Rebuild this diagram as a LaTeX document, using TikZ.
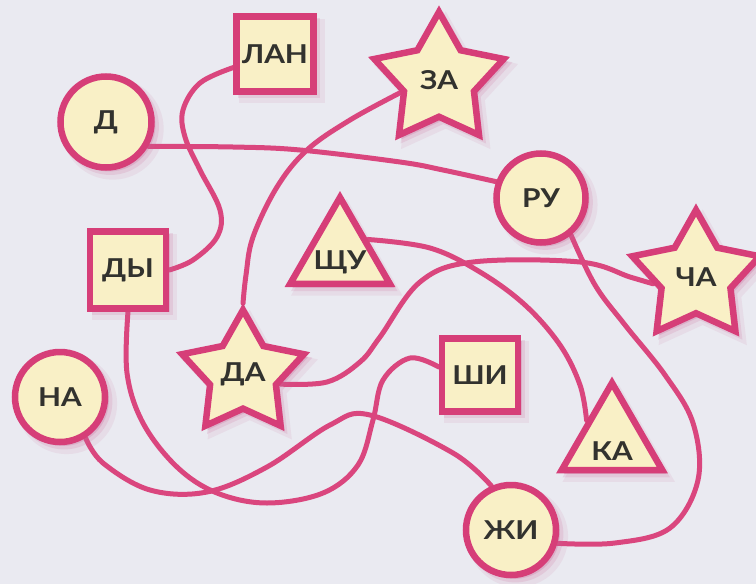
\documentclass[tikz,border=0pt]{standalone}
\usepackage{fontspec}
\setmainfont{Lato}[FakeStretch=1.15]
\usetikzlibrary{shapes.geometric,shadows}
\definecolor{bgc}{RGB}{234,234,241}
\definecolor{fillc}{RGB}{249,240,198}
\definecolor{edgec}{RGB}{214,62,120}
\definecolor{linec}{RGB}{218,70,126}
\definecolor{txtc}{RGB}{50,50,46}
\definecolor{shadc}{RGB}{200,100,150}
\pgfdeclarelayer{bg}
\pgfdeclarelayer{lines}
\pgfsetlayers{bg,lines,main}
\begin{document}
\begin{tikzpicture}[x=1pt,y=-1pt,
  lbl/.style={text=txtc, font=\bfseries\fontsize{26}{26}\selectfont, inner sep=0pt},
  shapebase/.style={draw=edgec, line width=6.5pt, fill=fillc, lbl,
    drop shadow={shadow xshift=6pt, shadow yshift=-6pt, shadow scale=1.12, fill=shadc, opacity=0.10},
    drop shadow={shadow xshift=4pt, shadow yshift=-4pt, shadow scale=1.07, fill=shadc, opacity=0.16},
    drop shadow={shadow xshift=3pt, shadow yshift=-3pt, shadow scale=1.02, fill=shadc, opacity=0.25}},
  circ/.style={shapebase, circle, minimum size=#1},
  sq/.style 2 args={shapebase, rectangle, minimum width=#1, minimum height=#2},
  starnode/.style={shapebase, star, star points=5, star point ratio=1.85, minimum size=#1},
  tri/.style={shapebase, regular polygon, regular polygon sides=3, minimum size=#1},
  conn/.style={draw=linec, line width=5pt, line cap=round}
]
\useasboundingbox (0,0) rectangle (756,584);
\begin{pgfonlayer}{bg}
  \fill[bgc] (0,0) rectangle (756,584);
\end{pgfonlayer}

% nodes
\node[sq={77pt}{75pt}] (lan) at (275,54) {ЛАН};
\node[circ=91pt] (d) at (106,122) {Д};
\node[starnode=136pt] (za) at (439,80) {ЗА};
\node[circ=89pt] (ru) at (541,198) {РУ};
\node[starnode=134pt] (cha) at (696,277) {ЧА};
\node[tri=115pt, label={[lbl, yshift=-7pt]center:ЩУ}] (shchu) at (340,255) {};
\node[sq={76pt}{77pt}] (dy) at (128,270) {ДЫ};
\node[starnode=128pt] (da) at (243,374) {ДА};
\node[circ=90pt] (na) at (60,397) {НА};
\node[sq={76pt}{73pt}] (shi) at (480,375) {ШИ};
\node[tri=116pt, label={[lbl, yshift=-10pt]center:КА}] (ka) at (612,441) {};
\node[circ=90pt] (zhi) at (511,530) {ЖИ};

% connectors
\begin{pgfonlayer}{lines}
\draw[conn] plot[smooth, tension=0.6] coordinates {(lan.198) (200,83) (183,110) (185,137) (200,170) (220,210) (217,237) (193,260) (dy.east)};
\draw[conn] plot[smooth, tension=0.6] coordinates {(d.-30) (233,147) (300,150) (400,162) (443,170) (ru.160)};
\draw[conn] plot[smooth, tension=0.6] coordinates {(za.198) (350,120) (307,150) (277,187) (253,237) (246,275) (da.north)};
\draw[conn] plot[smooth, tension=0.6] coordinates {(shchu.29) (430,248) (480,272) (525,305) (560,345) (580,385) (ka.141)};
\draw[conn] plot[smooth, tension=0.6] coordinates {(ru.-51) (595,285) (625,325) (665,375) (693,423) (698,480) (670,528) (615,543) (zhi.-16)};
\draw[conn] plot[smooth, tension=0.6] coordinates {(da.-15) (327,382) (360,362) (380,337) (420,282) (473,262) (580,262) (630,277) (cha.189)};
\draw[conn] plot[smooth, tension=0.6] coordinates {(dy.south) (127,373) (143,423) (177,467) (217,493) (267,503) (323,493) (358,465) (373,420) (383,380) (410,358) (shi.169)};
\draw[conn] plot[smooth, tension=0.6] coordinates {(na.-58) (103,463) (150,490) (207,492) (267,467) (330,425) (370,415) (453,453) (zhi.114)};
\end{pgfonlayer}
\end{tikzpicture}
\end{document}
